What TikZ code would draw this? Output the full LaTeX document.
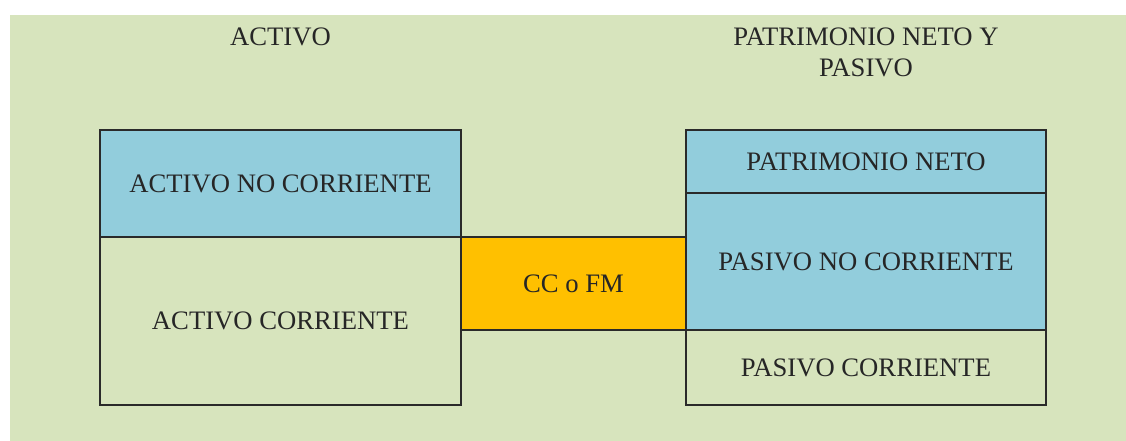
\documentclass[tikz,border=0pt]{standalone}
\usepackage{fontspec}
\setmainfont{Liberation Serif}
\definecolor{bggreen}{HTML}{D7E4BD}
\definecolor{boxblue}{HTML}{92CDDC}
\definecolor{boxorange}{HTML}{FFC000}
\definecolor{linegray}{HTML}{2A2A2A}
\definecolor{txt}{HTML}{262626}
\begin{document}
\begin{tikzpicture}[x=0.75pt,y=-0.75pt,
  cell/.style={draw=linegray,line width=1.3pt,rectangle,inner sep=0pt,
    text=txt,font=\fontsize{20}{24}\selectfont,align=center},
  head/.style={text=txt,font=\fontsize{20}{23.25}\selectfont,align=center,inner sep=0pt}]
\useasboundingbox (0,0) rectangle (1126,441);
\fill[white] (0,0) rectangle (1126,441);
\fill[bggreen] (10,15) rectangle (1126,441);
\node[head] (hact) at (280.5,37) {ACTIVO};
\node[head] (hpas) at (866,52.5) {PATRIMONIO NETO Y\\PASIVO};
\node[cell,fill=boxblue,minimum width=270.75pt,minimum height=80.25pt] (anc) at (280.5,183.5) {ACTIVO NO CORRIENTE};
\node[cell,fill=bggreen,minimum width=270.75pt,minimum height=126pt] (ac) at (280.5,321) {ACTIVO CORRIENTE};
\node[cell,fill=boxorange,minimum width=168.75pt,minimum height=69.75pt] (cc) at (573.5,283.5) {CC o FM};
\node[cell,fill=boxblue,minimum width=270pt,minimum height=47.25pt] (pn) at (866,161.5) {PATRIMONIO NETO};
\node[cell,fill=boxblue,minimum width=270pt,minimum height=102.75pt] (pnc) at (866,261.5) {PASIVO NO CORRIENTE};
\node[cell,fill=bggreen,minimum width=270pt,minimum height=56.25pt] (pc) at (866,367.5) {PASIVO CORRIENTE};
\end{tikzpicture}
\end{document}
